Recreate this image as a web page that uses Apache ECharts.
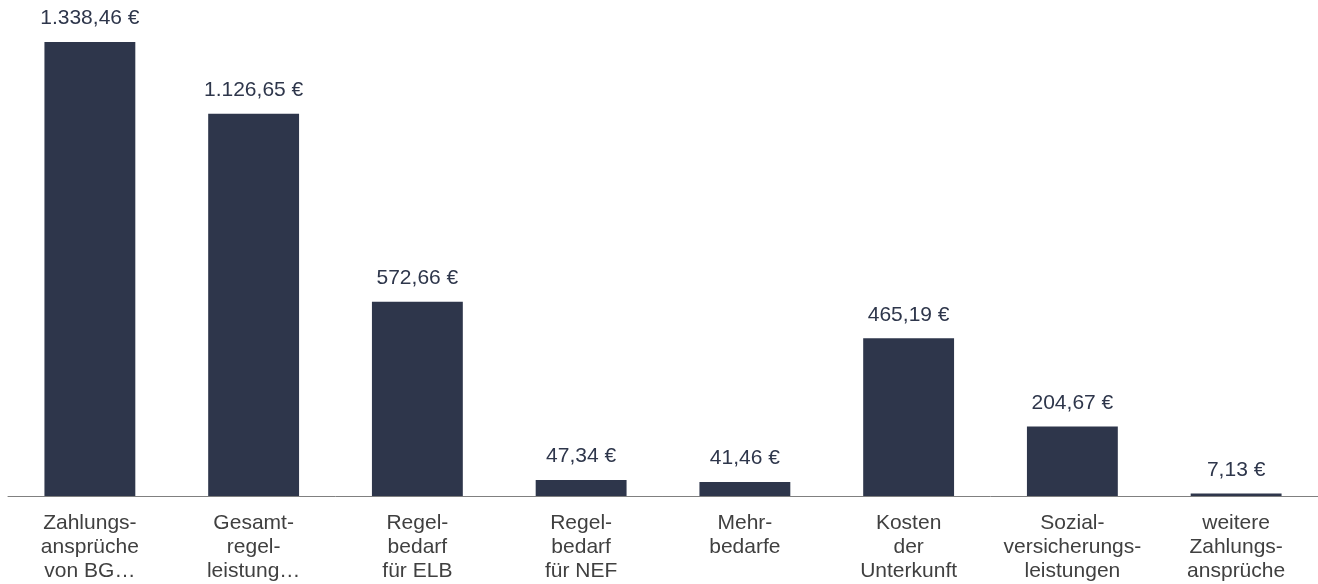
<!DOCTYPE html>
<html>
<head>
<meta charset="utf-8">
<script src="https://cdn.jsdelivr.net/npm/echarts@6/dist/echarts.min.js"></script>
<style>
  html, body { margin: 0; padding: 0; background: #fff; }
  #chart { width: 1318px; height: 584px; }
</style>
</head>
<body>
<div id="chart"></div>
<script>
const categories = [
  "Zahlungs-\nansprüche\nvon BG…",
  "Gesamt-\nregel-\nleistung…",
  "Regel-\nbedarf\nfür ELB",
  "Regel-\nbedarf\nfür NEF",
  "Mehr-\nbedarfe",
  "Kosten\nder\nUnterkunft",
  "Sozial-\nversicherungs-\nleistungen",
  "weitere\nZahlungs-\nansprüche"
];
const values = [1338.46, 1126.65, 572.66, 47.34, 41.46, 465.19, 204.67, 7.13];

const fmt = (v) => v.toLocaleString("de-DE", { minimumFractionDigits: 2, maximumFractionDigits: 2 }) + " €";

const chart = echarts.init(document.getElementById("chart"));
chart.setOption({
  animation: false,
  grid: { left: 8, right: 0, top: 42, bottom: 88, containLabel: false },
  xAxis: {
    type: "category",
    data: categories,
    axisTick: { show: false },
    axisLine: { lineStyle: { color: "#808080", width: 1 } },
    axisLabel: {
      interval: 0,
      margin: 15,
      color: "#404040",
      fontFamily: "Liberation Sans, Arial, sans-serif",
      fontSize: 21,
      lineHeight: 24,
      align: "center"
    }
  },
  yAxis: {
    type: "value",
    min: 0,
    max: "dataMax",
    show: false,
    splitLine: { show: false }
  },
  series: [{
    type: "bar",
    data: values,
    barWidth: "55.5%",
    itemStyle: { color: "#2e364b" },
    label: {
      show: true,
      position: "top",
      distance: 13,
      color: "#2e364b",
      fontFamily: "Liberation Sans, Arial, sans-serif",
      fontSize: 21,
      formatter: (p) => fmt(p.value)
    }
  }]
});
</script>
</body>
</html>
